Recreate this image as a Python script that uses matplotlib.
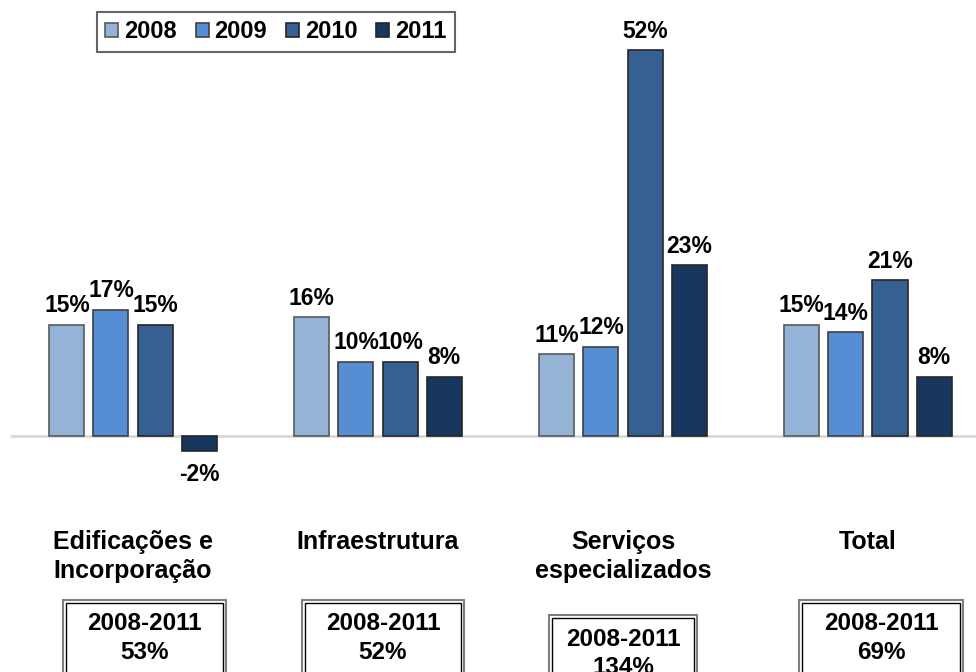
import matplotlib
matplotlib.use('Agg')
import matplotlib.pyplot as plt
from matplotlib.patches import Rectangle
import numpy as np

plt.rcParams['font.family'] = ['Liberation Sans', 'DejaVu Sans']
plt.rcParams['font.weight'] = 'bold'

# dados
categorias = ['Edificações e\nIncorporação', 'Infraestrutura',
              'Serviços\nespecializados', 'Total']
anos = ['2008', '2009', '2010', '2011']
v2008 = [15, 16, 11, 15]
v2009 = [17, 10, 12, 14]
v2010 = [15, 10, 52, 21]
v2011 = [-2, 8, 23, 8]
acumulado = ['53%', '52%', '134%', '69%']

cores = ['#95B3D7', '#558ED5', '#366092', '#17375E']
bordas = ['#595959', '#404040', '#262626', '#262626']

# layout (unidades de dados: 1 = distancia entre grupos)
passo = 0.18
largura = 0.143
box_dx = [0.045, 0.02, 0.0, 0.053]
box_w = [0.665, 0.66, 0.604, 0.67]
box_top = [-22.1, -22.1, -24.1, -22.1]
box_txt = [-27.2, -27.2, -29.3, -27.2]

fig = plt.figure(figsize=(9.76, 6.72), dpi=100)
ax = fig.add_axes([0, 0, 1, 1])
ax.set_xlim(-0.543, 3.441)
ax.set_ylim(-31.8, 58.76)
ax.axis('off')

x = np.arange(len(categorias))
ax.hlines(0, -0.502, 3.441, color='#D9D9D9', lw=2, zorder=1)

series = [v2008, v2009, v2010, v2011]
for i, vals in enumerate(series):
    pos = x + (i - 1.5) * passo
    bars = ax.bar(pos, vals, largura, color=cores[i], edgecolor=bordas[i],
                  lw=1.2, label=anos[i], zorder=2)
    for b, v in zip(bars, vals):
        cx = b.get_x() + b.get_width() / 2
        if v >= 0:
            ax.annotate(f'{v}%', (cx, v), xytext=(0, 5.5), textcoords='offset points',
                        ha='center', va='bottom', fontsize=16.5, fontweight='bold')
        else:
            ax.annotate(f'{v}%', (cx, v), xytext=(0, -9), textcoords='offset points',
                        ha='center', va='top', fontsize=16.5, fontweight='bold')

for i, cat in enumerate(categorias):
    ax.text(x[i], -12.7, cat, ha='center', va='top', fontsize=18,
            fontweight='bold', linespacing=1.25)

for i, txt in enumerate(acumulado):
    cx = x[i] + box_dx[i]
    w = box_w[i]
    ax.add_patch(Rectangle((cx - w / 2, -40), w, box_top[i] + 40, fill=False,
                           edgecolor='#7F7F7F', lw=1.5, zorder=3))
    ax.add_patch(Rectangle((cx - w / 2 + 0.012, -40), w - 0.024, box_top[i] + 40 - 0.4,
                           fill=False, edgecolor='black', lw=1.0, zorder=3))
    ax.text(cx, box_txt[i], '2008-2011\n' + txt, ha='center', va='center',
            fontsize=17.5, fontweight='bold', linespacing=1.3)

leg = fig.legend(loc='upper left', bbox_to_anchor=(97 / 976, 1 - 12 / 672), ncol=4,
                 prop={'size': 17, 'weight': 'bold'}, handlelength=0.55,
                 handleheight=0.55, handletextpad=0.25, columnspacing=0.8,
                 fancybox=False, borderaxespad=0, borderpad=0.35, frameon=True)
leg.get_frame().set_edgecolor('#404040')
leg.get_frame().set_linewidth(1.5)

fig.savefig('out.png', dpi=100, facecolor='white')
